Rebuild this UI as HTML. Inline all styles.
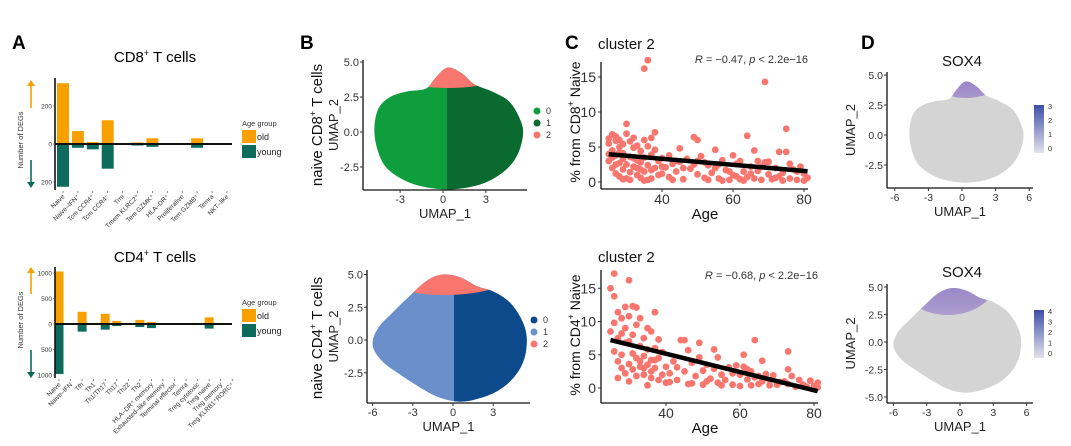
<!DOCTYPE html>
<html><head><meta charset="utf-8">
<style>
html,body{margin:0;padding:0;background:#fff;}
svg{display:block;font-family:"Liberation Sans",Arial,sans-serif;}
</style></head>
<body>
<svg id="fig" width="1071" height="446" viewBox="0 0 1071 446" xmlns="http://www.w3.org/2000/svg">
<defs>
<clipPath id="cpB1r"><rect x="447" y="0" width="200" height="446"/></clipPath>
<clipPath id="cpB1t"><ellipse cx="448" cy="62" rx="75" ry="26"/></clipPath>
<clipPath id="cpB2r"><rect x="454" y="0" width="200" height="446"/></clipPath>
<clipPath id="cpB2t"><ellipse cx="445" cy="268" rx="75" ry="27"/></clipPath>
<clipPath id="cpD1t"><ellipse cx="966" cy="70" rx="42" ry="28"/></clipPath>
<clipPath id="cpD2t"><ellipse cx="948" cy="280" rx="48" ry="35"/></clipPath>
<linearGradient id="cbar" x1="0" y1="1" x2="0" y2="0"><stop offset="0" stop-color="#e3e3ea"/><stop offset="1" stop-color="#3f4fa8"/></linearGradient>
<linearGradient id="purp1" x1="0" y1="1" x2="0" y2="0"><stop offset="0" stop-color="#d4d4d4"/><stop offset="0.5" stop-color="#b3a6d6"/><stop offset="1" stop-color="#8a6ec4"/></linearGradient>
</defs>
<text x="12" y="49" font-size="19" font-weight="bold">A</text>
<text x="300" y="49" font-size="19" font-weight="bold">B</text>
<text x="565" y="49" font-size="19" font-weight="bold">C</text>
<text x="861" y="49" font-size="19" font-weight="bold">D</text>
<text x="155" y="62" font-size="15" text-anchor="middle">CD8<tspan font-size="9" dy="-6">+</tspan><tspan dy="6"> T cells</tspan></text>
<text x="155" y="262" font-size="15" text-anchor="middle">CD4<tspan font-size="9" dy="-6">+</tspan><tspan dy="6"> T cells</tspan></text>
<g id="root"></g>
</svg>
<script>
const NS='http://www.w3.org/2000/svg';
const root=document.getElementById('root');

// ---------- data: panel A ----------
const cd8Cats=['Naive','Naive–IFN⁺','Tcm CCR4⁺','Tcm CCR4⁻','Trm','Tmem KLRC2⁺','Tem GZMK⁺','HLA–DR⁺','Proliferative','Tem GZMB⁺','Temra','NKT–like'];
const cd8Old=[320,68,10,125,0,8,30,0,0,30,0,0];
const cd8Young=[225,20,28,130,0,8,15,0,0,20,0,0];
const cd8Ticks=[200,0,-200];
const cd4Cats=['Naive','Naive–IFN','Tfh','Th1','Th1/Th17','Th17','Th22','Th2','HLA–DR⁺ memory','Exhausted–like memory','Terminal effector','Temra','Treg cytotoxic','Treg naive','Treg memory','Treg KLRB1⁺RORC⁺'];
const cd4Old=[1030,10,240,0,200,60,0,80,40,0,0,0,0,130,15,0];
const cd4Young=[980,0,150,0,110,40,0,60,80,0,0,0,0,90,15,0];
const cd4Ticks=[1000,500,0,-500,-1000];

// ---------- data: panel C ----------
const cd8Points=[[25,6.2],[25,5.5],[25,3.0],[26,6.8],[26,4.5],[26,2.0],[27,5.9],[27,3.8],[27,1.2],[27,6.5],[28,5.0],[28,2.7],[28,0.8],[28,6.0],[29,4.1],[29,3.3],[29,1.8],[29,5.4],[30,8.3],[30,6.9],[30,2.5],[30,0.5],[31,5.8],[31,3.6],[31,1.4],[32,4.9],[32,2.2],[32,6.3],[33,3.1],[33,1.0],[33,5.2],[34,4.4],[34,2.8],[34,0.6],[35,16.2],[35,6.0],[35,3.5],[35,1.5],[36,17.4],[36,5.1],[36,2.4],[36,0.3],[37,6.3],[37,3.9],[37,1.7],[38,7.1],[38,4.6],[38,2.0],[39,3.0],[40,1.2],[40,3.4],[41,2.1],[42,3.8],[42,0.7],[43,2.6],[44,1.5],[45,4.8],[45,2.9],[46,0.4],[47,3.3],[48,1.9],[49,6.4],[49,2.5],[50,6.0],[50,1.1],[51,3.7],[52,0.6],[53,2.4],[54,1.3],[55,4.6],[55,2.0],[56,0.5],[57,3.1],[58,1.7],[59,0.3],[60,3.8],[60,1.0],[61,2.6],[62,0.4],[62,3.0],[63,1.5],[64,6.6],[64,0.7],[65,2.2],[66,4.5],[66,0.5],[67,1.6],[68,0.3],[69,14.3],[69,2.8],[70,1.1],[71,0.4],[72,2.0],[73,4.3],[73,0.8],[74,1.3],[75,7.6],[75,4.3],[76,0.5],[77,1.8],[78,0.3],[79,2.2],[80,1.2],[81,0.6],[26,3.5],[28,4.2],[31,0.3],[33,2.0],[35,0.2],[39,1.0],[44,3.0],[52,2.8],[57,0.2],[61,0.8],[67,3.0],[70,2.9],[74,0.2],[78,1.5],[25,4.0],[27,2.5],[29,0.4],[32,3.4],[34,1.8],[37,0.5],[40,2.2],[43,0.3],[46,2.0],[50,3.0],[53,0.3],[56,2.5],[59,1.5],[63,0.2],[65,1.2],[68,2.2],[72,0.6],[76,2.6],[80,0.2]];
const cd4Points=[[25,15.0],[25,8.5],[26,17.2],[26,13.8],[26,9.8],[26,5.5],[27,11.4],[27,7.5],[27,4.0],[27,1.5],[28,10.5],[28,8.2],[28,5.0],[28,3.0],[29,12.2],[29,9.0],[29,6.8],[29,2.2],[30,16.2],[30,10.8],[30,7.0],[30,3.6],[30,1.0],[31,12.3],[31,8.0],[31,5.2],[31,2.8],[32,12.1],[32,9.5],[32,4.5],[32,1.8],[33,10.5],[33,6.3],[33,3.2],[34,7.5],[34,4.8],[34,2.0],[35,9.0],[35,5.8],[35,3.5],[35,0.4],[36,8.5],[36,4.2],[36,1.5],[37,11.4],[37,6.0],[37,3.0],[38,7.3],[38,4.5],[38,1.2],[39,5.4],[40,3.2],[40,0.8],[41,2.2],[42,4.0],[43,3.1],[44,7.2],[45,7.2],[45,2.5],[46,5.7],[46,0.6],[47,3.8],[48,1.8],[49,6.8],[49,4.6],[50,2.6],[50,0.5],[51,3.5],[52,1.4],[53,5.8],[53,2.9],[54,4.6],[54,0.8],[55,2.0],[56,1.2],[57,3.1],[58,0.5],[59,3.4],[60,2.0],[60,0.3],[61,5.0],[61,3.2],[62,1.3],[63,2.5],[63,0.4],[64,7.2],[64,1.6],[65,0.6],[66,4.1],[66,1.0],[67,2.1],[68,0.4],[69,1.9],[70,0.5],[72,1.0],[73,5.5],[73,2.8],[73,0.6],[74,1.8],[75,0.2],[76,1.2],[77,0.5],[78,0.2],[79,1.1],[80,0.3],[81,0.8],[81,0.1],[33,4.0],[34,3.0],[36,2.5],[37,4.2],[39,2.0],[41,0.9],[43,1.2],[47,0.7],[51,1.0],[55,0.4],[58,2.2],[62,2.8],[65,1.8],[68,1.2],[71,0.9]];
const cXTicks=[40,60,80];
const cYTicks=[0,5,10,15];

// ---------- data: UMAP outlines ----------
const umapCd8Outline=[[-4.8,0.3],[-4.5,1.7],[-3.7,2.5],[-2.5,2.9],[-1.2,3.1],[-0.5,3.9],[0.3,4.6],[1.3,4.2],[2.2,3.4],[3.4,2.9],[4.6,2.2],[5.3,1.1],[5.6,0],[5.3,-1.4],[4.6,-2.5],[3.4,-3.4],[2,-3.9],[0.3,-4.1],[-1.4,-3.9],[-2.8,-3.4],[-4,-2.5],[-4.6,-1.2]];
const umapCd4Outline=[[-6,-0.4],[-5.6,0.9],[-4.5,2.1],[-3.3,3.3],[-2,4.5],[-0.8,5.0],[0.5,4.8],[1.8,4.1],[3.0,3.7],[4.2,2.9],[5.1,1.6],[5.5,0.2],[5.3,-1.5],[4.5,-2.9],[3.3,-3.9],[1.8,-4.5],[0.5,-4.7],[-1,-4.4],[-2.5,-3.6],[-4,-2.6],[-5.3,-1.6]];
const umapXTicksB1=[-3,0,3];
const umapXTicksB2=[-6,-3,0,3];
const umapYTicks=[5.0,2.5,0.0,-2.5];
const umapXTicksD=[-6,-3,0,3,6];
const umapYTicksD2=[5.0,2.5,0.0,-2.5,-5.0];

function mk(tag,attrs,name,parent){
  const el=document.createElementNS(NS,tag);
  for(const k in attrs) el.setAttribute(k,attrs[k]);
  
  
  (parent||root).appendChild(el);
  return el;
}
function txt(x,y,s,size,extra,name,parent){
  const a=Object.assign({x:x,y:y,'font-size':size,fill:'#333'},extra||{});
  const el=mk('text',a,name,parent);
  el.textContent=s;
  return el;
}

// ---------- Panel A ----------
function barChart(c){
  const g=mk('g',{},c.prefix+'-bar-chart');
  const yS=v=>c.zero - v*c.k;
  const xS=i=>c.x0 + i*c.step;
  c.old.forEach((v,i)=>{ if(v>0) mk('rect',{x:xS(i)-c.bw/2,y:yS(v),width:c.bw,height:c.zero-yS(v),fill:'#f7a000'},c.prefix+'-bar-old-'+i,g); });
  c.young.forEach((v,i)=>{ if(v>0) mk('rect',{x:xS(i)-c.bw/2,y:c.zero,width:c.bw,height:yS(-v)-c.zero,fill:'#0d6b5b'},c.prefix+'-bar-young-'+i,g); });
  mk('line',{x1:c.ax,y1:c.top,x2:c.ax,y2:c.bot,stroke:'#111','stroke-width':1.6},c.prefix+'-y-axis',g);
  mk('line',{x1:c.ax,y1:c.zero,x2:232,y2:c.zero,stroke:'#111','stroke-width':2},c.prefix+'-zero-line',g);
  c.ticks.forEach(t=>{
    mk('line',{x1:c.ax-2,y1:yS(t),x2:c.ax,y2:yS(t),stroke:'#555','stroke-width':0.7},c.prefix+'-y-tick',g);
    txt(c.ax-3,yS(t)+2.5,String(Math.abs(t)),6.5,{'text-anchor':'end'},c.prefix+'-y-tick-label',g);
  });
  c.cats.forEach((s,i)=>{
    mk('line',{x1:xS(i),y1:c.bot+1,x2:xS(i),y2:c.bot+3,stroke:'#555','stroke-width':0.7},c.prefix+'-x-tick',g);
    const x=xS(i)+2, y=c.bot+7;
    txt(x,y,s,6.5,{'text-anchor':'end',transform:'rotate(-45 '+x+' '+y+')'},c.prefix+'-x-tick-label',g);
  });
  mk('line',{x1:31,y1:c.arrUp[1],x2:31,y2:c.arrUp[0]+5,stroke:'#f7a000','stroke-width':1.6},c.prefix+'-up-arrow',g);
  mk('polygon',{points:`27,${c.arrUp[0]+6} 35,${c.arrUp[0]+6} 31,${c.arrUp[0]}`,fill:'#f7a000'},c.prefix+'-up-arrow-head',g);
  mk('line',{x1:31,y1:c.arrDn[0],x2:31,y2:c.arrDn[1]-5,stroke:'#0d6b5b','stroke-width':1.6},c.prefix+'-down-arrow',g);
  mk('polygon',{points:`27,${c.arrDn[1]-6} 35,${c.arrDn[1]-6} 31,${c.arrDn[1]}`,fill:'#0d6b5b'},c.prefix+'-down-arrow-head',g);
  txt(0,0,'Number of DEGs',7.5,{'text-anchor':'middle',transform:`translate(23,${c.labY}) rotate(-90)`},c.prefix+'-y-axis-title',g);
  txt(242,c.leg,'Age group',7.5,{},c.prefix+'-legend-title',g);
  mk('rect',{x:242,y:c.leg+4,width:14,height:13,fill:'#f7a000'},c.prefix+'-legend-old-key',g);
  txt(257,c.leg+14,'old',9,{fill:'#222'},c.prefix+'-legend-old-label',g);
  mk('rect',{x:242,y:c.leg+19,width:14,height:13,fill:'#0d6b5b'},c.prefix+'-legend-young-key',g);
  txt(257,c.leg+29,'young',9,{fill:'#222'},c.prefix+'-legend-young-label',g);
}
barChart({prefix:'cd8',cats:cd8Cats,old:cd8Old,young:cd8Young,ticks:cd8Ticks,x0:63,step:14.9,bw:12,zero:144,k:0.19,ax:55,top:78,bot:190,arrUp:[80,108],arrDn:[160,188],labY:140,leg:126});
barChart({prefix:'cd4',cats:cd4Cats,old:cd4Old,young:cd4Young,ticks:cd4Ticks,x0:59,step:11.55,bw:9,zero:324,k:0.051,ax:55,top:267,bot:378,arrUp:[267,294],arrDn:[350,378],labY:320,leg:305});

// ---------- UMAP helpers ----------
function umapAxes(c){
  const g=c.g;
  mk('line',{x1:c.ax,y1:c.top,x2:c.ax,y2:c.bot,stroke:'#111','stroke-width':1.3},c.prefix+'-y-axis',g);
  mk('line',{x1:c.ax,y1:c.bot,x2:c.right,y2:c.bot,stroke:'#111','stroke-width':1.3},c.prefix+'-x-axis',g);
  c.xt.forEach(t=>{
    mk('line',{x1:c.xS(t),y1:c.bot,x2:c.xS(t),y2:c.bot+3,stroke:'#333'},c.prefix+'-x-tick',g);
    txt(c.xS(t),c.bot+13,String(t),c.fs,{'text-anchor':'middle'},c.prefix+'-x-tick-label',g);
  });
  c.yt.forEach(t=>{
    mk('line',{x1:c.ax-3,y1:c.yS(t),x2:c.ax,y2:c.yS(t),stroke:'#333'},c.prefix+'-y-tick',g);
    txt(c.ax-4,c.yS(t)+4,t.toFixed(1),c.fs,{'text-anchor':'end'},c.prefix+'-y-tick-label',g);
  });
  txt((c.ax+c.right)/2,c.bot+28,'UMAP_1',13,{'text-anchor':'middle',fill:'#222'},c.prefix+'-x-axis-title',g);
  txt(0,0,'UMAP_2',13,{'text-anchor':'middle',fill:'#222',transform:`translate(${c.ylx},${(c.top+c.bot)/2}) rotate(-90)`},c.prefix+'-y-axis-title',g);
}
// smooth closed Catmull-Rom path through outline
function outlinePath(pts,xS,yS){
  const P=pts.map(p=>[xS(p[0]),yS(p[1])]);const n=P.length;
  let d='M'+P[0][0].toFixed(1)+','+P[0][1].toFixed(1);
  for(let i=0;i<n;i++){
    const p0=P[(i-1+n)%n],p1=P[i],p2=P[(i+1)%n],p3=P[(i+2)%n];
    const c1=[p1[0]+(p2[0]-p0[0])/6,p1[1]+(p2[1]-p0[1])/6];
    const c2=[p2[0]-(p3[0]-p1[0])/6,p2[1]-(p3[1]-p1[1])/6];
    d+=' C'+c1.map(v=>v.toFixed(1)).join(',')+' '+c2.map(v=>v.toFixed(1)).join(',')+' '+p2[0].toFixed(1)+','+p2[1].toFixed(1);
  }
  return d+' Z';
}

// ---------- Panel B top ----------
(function(){
  const g=mk('g',{},'umap-cd8-panel');
  const xS=v=>443+v*14.3, yS=v=>132-v*14;
  const d=outlinePath(umapCd8Outline,xS,yS);
  mk('path',{d:d,fill:'#0e9e3e'},'cluster-0-region',g);
  mk('path',{d:d,fill:'#0a6a2f','clip-path':'url(#cpB1r)'},'cluster-1-region',g);
  mk('path',{d:d,fill:'#f8766d','clip-path':'url(#cpB1t)'},'cluster-2-region',g);
  umapAxes({g:g,prefix:'umap-cd8',ax:363,top:60,bot:190,right:527,xS:xS,yS:yS,xt:umapXTicksB1,yt:umapYTicks,fs:11,ylx:338});
  const t=txt(0,0,'naive CD8',15,{'text-anchor':'middle',fill:'#111',transform:'translate(322,125) rotate(-90)'},'umap-cd8-row-title',g);
  t.innerHTML='naive CD8<tspan font-size="9" dy="-6">+</tspan><tspan dy="6"> T cells</tspan>';
  [['0','#0e9e3e'],['1','#0a6a2f'],['2','#f8766d']].forEach((p,i)=>{
    mk('circle',{cx:537,cy:111+i*12,r:3.5,fill:p[1]},'legend-cluster-'+p[0]+'-key',g);
    txt(546,114+i*12,p[0],9,{},'legend-cluster-'+p[0]+'-label',g);
  });
})();

// ---------- Panel B bottom ----------
(function(){
  const g=mk('g',{},'umap-cd4-panel');
  const xS=v=>453+v*13.4, yS=v=>340-v*13.1;
  const d=outlinePath(umapCd4Outline,xS,yS);
  mk('path',{d:d,fill:'#6a8fcb'},'cluster-1-region',g);
  mk('path',{d:d,fill:'#0c4a8c','clip-path':'url(#cpB2r)'},'cluster-0-region',g);
  mk('path',{d:d,fill:'#f8766d','clip-path':'url(#cpB2t)'},'cluster-2-region',g);
  umapAxes({g:g,prefix:'umap-cd4',ax:367,top:270,bot:403,right:530,xS:xS,yS:yS,xt:umapXTicksB2,yt:umapYTicks,fs:11,ylx:338});
  const t=txt(0,0,'naive CD4',15,{'text-anchor':'middle',fill:'#111',transform:'translate(322,338) rotate(-90)'},'umap-cd4-row-title',g);
  t.innerHTML='naive CD4<tspan font-size="9" dy="-6">+</tspan><tspan dy="6"> T cells</tspan>';
  [['0','#0c4a8c'],['1','#6a8fcb'],['2','#f8766d']].forEach((p,i)=>{
    mk('circle',{cx:534,cy:320+i*12,r:3.5,fill:p[1]},'legend-cluster-'+p[0]+'-key',g);
    txt(543,323+i*12,p[0],9,{},'legend-cluster-'+p[0]+'-label',g);
  });
})();

// ---------- Panel C ----------
function scatter(c){
  const g=mk('g',{},c.prefix+'-scatter');
  const xS=a=>c.x40+(a-40)*c.kx, yS=v=>c.y0-v*c.ky;
  c.pts.forEach((p,i)=>mk('circle',{cx:xS(p[0]),cy:yS(p[1]),r:3.4,fill:'#f8766d'},c.prefix+'-point',g));
  const n=c.pts.length;let sx=0,sy=0,sxx=0,sxy=0;
  c.pts.forEach(p=>{sx+=p[0];sy+=p[1];sxx+=p[0]*p[0];sxy+=p[0]*p[1];});
  const b=(n*sxy-sx*sy)/(n*sxx-sx*sx), a=(sy-b*sx)/n;
  const x1=25,x2=81;
  mk('line',{x1:xS(x1),y1:yS(a+b*x1),x2:xS(x2),y2:yS(a+b*x2),stroke:'#000','stroke-width':4.5},c.prefix+'-regression-line',g);
  mk('line',{x1:601,y1:c.top,x2:601,y2:c.bot,stroke:'#111','stroke-width':1.3},c.prefix+'-y-axis',g);
  mk('line',{x1:601,y1:c.bot,x2:c.right,y2:c.bot,stroke:'#111','stroke-width':1.3},c.prefix+'-x-axis',g);
  cXTicks.forEach(t=>{
    mk('line',{x1:xS(t),y1:c.bot,x2:xS(t),y2:c.bot+3,stroke:'#333'},c.prefix+'-x-tick',g);
    txt(xS(t),c.bot+15,String(t),14,{'text-anchor':'middle'},c.prefix+'-x-tick-label',g);
  });
  cYTicks.forEach(t=>{
    mk('line',{x1:598,y1:yS(t),x2:601,y2:yS(t),stroke:'#333'},c.prefix+'-y-tick',g);
    txt(596,yS(t)+5,String(t),14,{'text-anchor':'end'},c.prefix+'-y-tick-label',g);
  });
  txt(705,c.bot+30,'Age',15,{'text-anchor':'middle',fill:'#111'},c.prefix+'-x-axis-title',g);
  txt(598,c.titleY,'cluster 2',15,{fill:'#111'},c.prefix+'-title',g);
  const r=txt(c.right,c.rY,'',11,{'text-anchor':'end'},c.prefix+'-correlation-label',g);
  r.innerHTML='<tspan font-style="italic">R</tspan> = '+c.r+', <tspan font-style="italic">p</tspan> &lt; 2.2e−16';
  const yl=txt(0,0,'',14,{'text-anchor':'middle',fill:'#111',transform:`translate(580,${c.labY}) rotate(-90)`},c.prefix+'-y-axis-title',g);
  yl.innerHTML='% from '+c.cell+'<tspan font-size="9" dy="-6">+</tspan><tspan dy="6"> Naive</tspan>';
}
scatter({prefix:'cd8-cluster2',pts:cd8Points,x40:662,kx:3.55,y0:182,ky:7,top:62,bot:189,right:808,titleY:49,rY:63,r:'−0.47',cell:'CD8',labY:122});
scatter({prefix:'cd4-cluster2',pts:cd4Points,x40:666,kx:3.7,y0:388,ky:6.65,top:270,bot:403,right:818,titleY:262,rY:279,r:'−0.68',cell:'CD4',labY:335});

// ---------- Panel D ----------
function sox(c){
  const g=mk('g',{},c.prefix+'-panel');
  const d=outlinePath(c.outline,c.xS,c.yS);
  mk('path',{d:d,fill:'#d4d4d4'},c.prefix+'-cells',g);
  mk('path',{d:d,fill:'url(#purp1)','clip-path':'url('+c.clip+')',opacity:0.75},c.prefix+'-high-expression',g);
  umapAxes({g:g,prefix:c.prefix,ax:887,top:c.top,bot:c.bot,right:1033,xS:c.xS,yS:c.yS,xt:umapXTicksD,yt:c.yt,fs:10.5,ylx:855});
  txt(962,c.titleY,'SOX4',15,{'text-anchor':'middle',fill:'#111'},c.prefix+'-title',g);
  mk('rect',{x:1034,y:c.cb[0],width:10,height:c.cb[1]-c.cb[0],fill:'url(#cbar)'},c.prefix+'-colorbar',g);
  c.cbl.forEach((l,i)=>txt(1048,c.cb[0]+4+i*(c.cb[1]-c.cb[0]-6)/(c.cbl.length-1),l,7.5,{},c.prefix+'-colorbar-label',g));
}
sox({prefix:'sox4-cd8',outline:umapCd8Outline.map(p=>[p[0]*0.98,p[1]*0.97]),xS:v=>962+v*11.2,yS:v=>135-v*12,clip:'#cpD1t',top:72,bot:188,yt:umapYTicks,titleY:66,cb:[105,153],cbl:['3','2','1','0']});
sox({prefix:'sox4-cd4',outline:umapCd4Outline.map(p=>[p[0],p[1]*0.98]),xS:v=>960+v*11.1,yS:v=>342-v*11,clip:'#cpD2t',top:284,bot:403,yt:umapYTicksD2,titleY:277,cb:[310,358],cbl:['4','3','2','1','0']});
</script>
</body></html>
